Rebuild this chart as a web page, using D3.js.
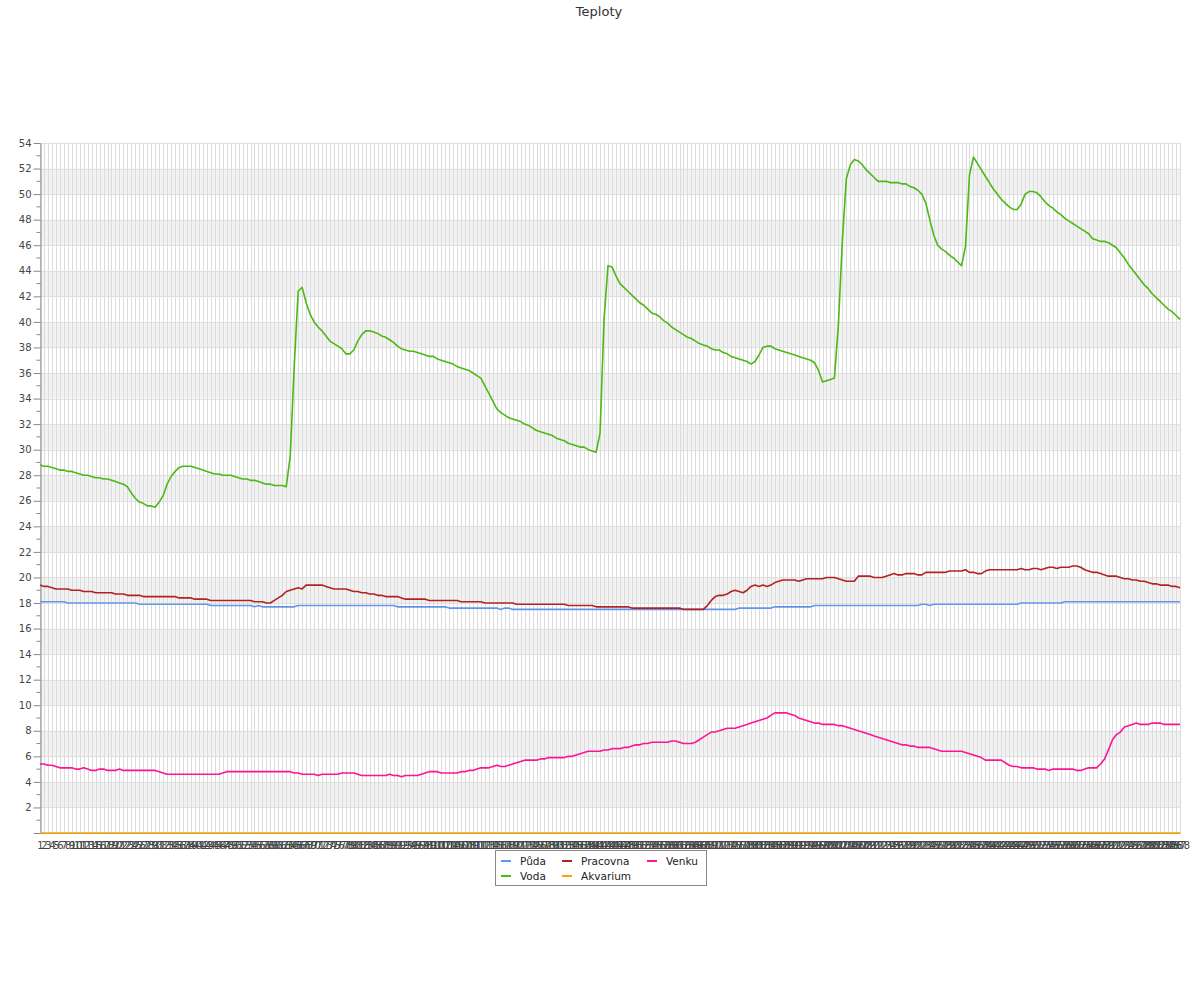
<!DOCTYPE html>
<html>
<head>
<meta charset="utf-8">
<script src="https://cdn.jsdelivr.net/npm/d3@7"></script>
<style>
  html, body { margin: 0; padding: 0; background: #fff; }
  svg { display: block; font-family: "DejaVu Sans", sans-serif; }
</style>
</head>
<body>
<svg id="chart" width="1200" height="1000"></svg>
<script>
const title = "Teploty";

const categories = [
  1,2,3,4,5,6,7,8,9,10,11,12,
  13,14,15,16,17,18,19,20,21,22,23,24,
  25,26,27,28,29,30,31,32,33,34,35,36,
  37,38,39,40,41,42,43,44,45,46,47,48,
  49,50,51,52,53,54,55,56,57,58,59,60,
  61,62,63,64,65,66,67,68,69,70,71,72,
  73,74,75,76,77,78,79,80,81,82,83,84,
  85,86,87,88,89,90,91,92,93,94,95,96,
  97,98,99,100,101,102,103,104,105,106,107,108,
  109,110,111,112,113,114,115,116,117,118,119,120,
  121,122,123,124,125,126,127,128,129,130,131,132,
  133,134,135,136,137,138,139,140,141,142,143,144,
  145,146,147,148,149,150,151,152,153,154,155,156,
  157,158,159,160,161,162,163,164,165,166,167,168,
  169,170,171,172,173,174,175,176,177,178,179,180,
  181,182,183,184,185,186,187,188,189,190,191,192,
  193,194,195,196,197,198,199,200,201,202,203,204,
  205,206,207,208,209,210,211,212,213,214,215,216,
  217,218,219,220,221,222,223,224,225,226,227,228,
  229,230,231,232,233,234,235,236,237,238,239,240,
  241,242,243,244,245,246,247,248,249,250,251,252,
  253,254,255,256,257,258,259,260,261,262,263,264,
  265,266,267,268,269,270,271,272,273,274,275,276,
  277,278,279,280,281,282,283,284,285,286,287,288
];

const puda = [
  18.1,18.1,18.1,18.1,18.1,18.1,18.1,18.0,18.0,18.0,18.0,18.0,
  18.0,18.0,18.0,18.0,18.0,18.0,18.0,18.0,18.0,18.0,18.0,18.0,
  18.0,17.9,17.9,17.9,17.9,17.9,17.9,17.9,17.9,17.9,17.9,17.9,
  17.9,17.9,17.9,17.9,17.9,17.9,17.9,17.8,17.8,17.8,17.8,17.8,
  17.8,17.8,17.8,17.8,17.8,17.8,17.7,17.8,17.7,17.7,17.7,17.7,
  17.7,17.7,17.7,17.7,17.7,17.8,17.8,17.8,17.8,17.8,17.8,17.8,
  17.8,17.8,17.8,17.8,17.8,17.8,17.8,17.8,17.8,17.8,17.8,17.8,
  17.8,17.8,17.8,17.8,17.8,17.8,17.7,17.7,17.7,17.7,17.7,17.7,
  17.7,17.7,17.7,17.7,17.7,17.7,17.7,17.6,17.6,17.6,17.6,17.6,
  17.6,17.6,17.6,17.6,17.6,17.6,17.6,17.6,17.5,17.6,17.6,17.5,
  17.5,17.5,17.5,17.5,17.5,17.5,17.5,17.5,17.5,17.5,17.5,17.5,
  17.5,17.5,17.5,17.5,17.5,17.5,17.5,17.5,17.5,17.5,17.5,17.5,
  17.5,17.5,17.5,17.5,17.5,17.5,17.5,17.5,17.5,17.5,17.5,17.5,
  17.5,17.5,17.5,17.5,17.5,17.5,17.5,17.5,17.5,17.5,17.5,17.5,
  17.5,17.5,17.5,17.5,17.5,17.5,17.5,17.5,17.6,17.6,17.6,17.6,
  17.6,17.6,17.6,17.6,17.6,17.7,17.7,17.7,17.7,17.7,17.7,17.7,
  17.7,17.7,17.7,17.8,17.8,17.8,17.8,17.8,17.8,17.8,17.8,17.8,
  17.8,17.8,17.8,17.8,17.8,17.8,17.8,17.8,17.8,17.8,17.8,17.8,
  17.8,17.8,17.8,17.8,17.8,17.8,17.9,17.9,17.8,17.9,17.9,17.9,
  17.9,17.9,17.9,17.9,17.9,17.9,17.9,17.9,17.9,17.9,17.9,17.9,
  17.9,17.9,17.9,17.9,17.9,17.9,17.9,18.0,18.0,18.0,18.0,18.0,
  18.0,18.0,18.0,18.0,18.0,18.0,18.1,18.1,18.1,18.1,18.1,18.1,
  18.1,18.1,18.1,18.1,18.1,18.1,18.1,18.1,18.1,18.1,18.1,18.1,
  18.1,18.1,18.1,18.1,18.1,18.1,18.1,18.1,18.1,18.1,18.1,18.1
];

const voda = [
  28.8,28.7,28.7,28.6,28.5,28.4,28.4,28.3,28.3,28.2,28.1,28.0,
  28.0,27.9,27.8,27.8,27.7,27.7,27.6,27.5,27.4,27.3,27.1,26.6,
  26.2,25.9,25.8,25.6,25.6,25.5,25.9,26.4,27.3,27.9,28.3,28.6,
  28.7,28.7,28.7,28.6,28.5,28.4,28.3,28.2,28.1,28.1,28.0,28.0,
  28.0,27.9,27.8,27.7,27.7,27.6,27.6,27.5,27.4,27.3,27.3,27.2,
  27.2,27.2,27.1,29.5,36.5,42.4,42.7,41.5,40.6,40.0,39.6,39.3,
  38.9,38.5,38.3,38.1,37.9,37.5,37.5,37.8,38.5,39.0,39.3,39.3,
  39.2,39.1,38.9,38.8,38.6,38.4,38.1,37.9,37.8,37.7,37.7,37.6,
  37.5,37.4,37.3,37.3,37.1,37.0,36.9,36.8,36.7,36.5,36.4,36.3,
  36.2,36.0,35.8,35.6,35.0,34.4,33.8,33.2,32.9,32.7,32.5,32.4,
  32.3,32.2,32.0,31.9,31.7,31.5,31.4,31.3,31.2,31.1,30.9,30.8,
  30.7,30.5,30.4,30.3,30.2,30.2,30.0,29.9,29.8,31.3,40.2,44.4,
  44.3,43.6,43.0,42.7,42.4,42.1,41.8,41.5,41.3,41.0,40.7,40.6,
  40.4,40.1,39.9,39.6,39.4,39.2,39.0,38.8,38.7,38.5,38.3,38.2,
  38.1,37.9,37.8,37.8,37.6,37.5,37.3,37.2,37.1,37.0,36.9,36.7,
  36.9,37.4,38.0,38.1,38.1,37.9,37.8,37.7,37.6,37.5,37.4,37.3,
  37.2,37.1,37.0,36.8,36.2,35.3,35.4,35.5,35.6,39.8,46.4,51.2,
  52.3,52.7,52.6,52.3,51.9,51.6,51.3,51.0,51.0,51.0,50.9,50.9,
  50.9,50.8,50.8,50.6,50.5,50.3,50.0,49.3,48.0,46.8,46.0,45.7,
  45.5,45.2,45.0,44.7,44.4,45.9,51.5,52.9,52.4,51.9,51.4,50.9,
  50.4,50.0,49.6,49.3,49.0,48.8,48.8,49.2,50.0,50.2,50.2,50.1,
  49.8,49.4,49.1,48.9,48.6,48.4,48.1,47.9,47.7,47.5,47.3,47.1,
  46.9,46.5,46.4,46.3,46.3,46.2,46.0,45.8,45.4,45.0,44.5,44.1,
  43.7,43.3,42.9,42.6,42.2,41.9,41.6,41.3,41.0,40.8,40.5,40.2
];

const pracovna = [
  19.4,19.3,19.3,19.2,19.1,19.1,19.1,19.1,19.0,19.0,19.0,18.9,
  18.9,18.9,18.8,18.8,18.8,18.8,18.8,18.7,18.7,18.7,18.6,18.6,
  18.6,18.6,18.5,18.5,18.5,18.5,18.5,18.5,18.5,18.5,18.5,18.4,
  18.4,18.4,18.4,18.3,18.3,18.3,18.3,18.2,18.2,18.2,18.2,18.2,
  18.2,18.2,18.2,18.2,18.2,18.2,18.1,18.1,18.1,18.0,18.0,18.2,
  18.4,18.6,18.9,19.0,19.1,19.2,19.1,19.4,19.4,19.4,19.4,19.4,
  19.3,19.2,19.1,19.1,19.1,19.1,19.0,18.9,18.9,18.8,18.8,18.7,
  18.7,18.6,18.6,18.5,18.5,18.5,18.5,18.4,18.3,18.3,18.3,18.3,
  18.3,18.3,18.2,18.2,18.2,18.2,18.2,18.2,18.2,18.2,18.1,18.1,
  18.1,18.1,18.1,18.1,18.0,18.0,18.0,18.0,18.0,18.0,18.0,18.0,
  17.9,17.9,17.9,17.9,17.9,17.9,17.9,17.9,17.9,17.9,17.9,17.9,
  17.9,17.8,17.8,17.8,17.8,17.8,17.8,17.8,17.7,17.7,17.7,17.7,
  17.7,17.7,17.7,17.7,17.7,17.6,17.6,17.6,17.6,17.6,17.6,17.6,
  17.6,17.6,17.6,17.6,17.6,17.6,17.5,17.5,17.5,17.5,17.5,17.5,
  17.8,18.2,18.5,18.6,18.6,18.7,18.9,19.0,18.9,18.8,19.0,19.3,
  19.4,19.3,19.4,19.3,19.4,19.6,19.7,19.8,19.8,19.8,19.8,19.7,
  19.8,19.9,19.9,19.9,19.9,19.9,20.0,20.0,20.0,19.9,19.8,19.7,
  19.7,19.7,20.1,20.1,20.1,20.1,20.0,20.0,20.0,20.1,20.2,20.3,
  20.2,20.2,20.3,20.3,20.3,20.2,20.2,20.4,20.4,20.4,20.4,20.4,
  20.4,20.5,20.5,20.5,20.5,20.6,20.4,20.4,20.3,20.3,20.5,20.6,
  20.6,20.6,20.6,20.6,20.6,20.6,20.6,20.7,20.6,20.6,20.7,20.7,
  20.6,20.7,20.8,20.8,20.7,20.8,20.8,20.8,20.9,20.9,20.8,20.6,
  20.5,20.4,20.4,20.3,20.2,20.1,20.1,20.1,20.0,19.9,19.9,19.8,
  19.8,19.7,19.7,19.6,19.5,19.5,19.4,19.4,19.4,19.3,19.3,19.2
];

const akvarium = [
  0,0,0,0,0,0,0,0,0,0,0,0, 0,0,0,0,0,0,0,0,0,0,0,0,
  0,0,0,0,0,0,0,0,0,0,0,0, 0,0,0,0,0,0,0,0,0,0,0,0,
  0,0,0,0,0,0,0,0,0,0,0,0, 0,0,0,0,0,0,0,0,0,0,0,0,
  0,0,0,0,0,0,0,0,0,0,0,0, 0,0,0,0,0,0,0,0,0,0,0,0,
  0,0,0,0,0,0,0,0,0,0,0,0, 0,0,0,0,0,0,0,0,0,0,0,0,
  0,0,0,0,0,0,0,0,0,0,0,0, 0,0,0,0,0,0,0,0,0,0,0,0,
  0,0,0,0,0,0,0,0,0,0,0,0, 0,0,0,0,0,0,0,0,0,0,0,0,
  0,0,0,0,0,0,0,0,0,0,0,0, 0,0,0,0,0,0,0,0,0,0,0,0,
  0,0,0,0,0,0,0,0,0,0,0,0, 0,0,0,0,0,0,0,0,0,0,0,0,
  0,0,0,0,0,0,0,0,0,0,0,0, 0,0,0,0,0,0,0,0,0,0,0,0,
  0,0,0,0,0,0,0,0,0,0,0,0, 0,0,0,0,0,0,0,0,0,0,0,0,
  0,0,0,0,0,0,0,0,0,0,0,0, 0,0,0,0,0,0,0,0,0,0,0,0
];

const venku = [
  5.4,5.4,5.3,5.3,5.2,5.1,5.1,5.1,5.1,5.0,5.0,5.1,
  5.0,4.9,4.9,5.0,5.0,4.9,4.9,4.9,5.0,4.9,4.9,4.9,
  4.9,4.9,4.9,4.9,4.9,4.9,4.8,4.7,4.6,4.6,4.6,4.6,
  4.6,4.6,4.6,4.6,4.6,4.6,4.6,4.6,4.6,4.6,4.7,4.8,
  4.8,4.8,4.8,4.8,4.8,4.8,4.8,4.8,4.8,4.8,4.8,4.8,
  4.8,4.8,4.8,4.8,4.7,4.7,4.6,4.6,4.6,4.6,4.5,4.6,
  4.6,4.6,4.6,4.6,4.7,4.7,4.7,4.7,4.6,4.5,4.5,4.5,
  4.5,4.5,4.5,4.5,4.6,4.5,4.5,4.4,4.5,4.5,4.5,4.5,
  4.6,4.7,4.8,4.8,4.8,4.7,4.7,4.7,4.7,4.7,4.8,4.8,
  4.9,4.9,5.0,5.1,5.1,5.1,5.2,5.3,5.2,5.2,5.3,5.4,
  5.5,5.6,5.7,5.7,5.7,5.7,5.8,5.8,5.9,5.9,5.9,5.9,
  5.9,6.0,6.0,6.1,6.2,6.3,6.4,6.4,6.4,6.4,6.5,6.5,
  6.6,6.6,6.6,6.7,6.7,6.8,6.9,6.9,7.0,7.0,7.1,7.1,
  7.1,7.1,7.1,7.2,7.2,7.1,7.0,7.0,7.0,7.1,7.3,7.5,
  7.7,7.9,7.9,8.0,8.1,8.2,8.2,8.2,8.3,8.4,8.5,8.6,
  8.7,8.8,8.9,9.0,9.2,9.4,9.4,9.4,9.4,9.3,9.2,9.0,
  8.9,8.8,8.7,8.6,8.6,8.5,8.5,8.5,8.5,8.4,8.4,8.3,
  8.2,8.1,8.0,7.9,7.8,7.7,7.6,7.5,7.4,7.3,7.2,7.1,
  7.0,6.9,6.9,6.8,6.8,6.7,6.7,6.7,6.7,6.6,6.5,6.4,
  6.4,6.4,6.4,6.4,6.4,6.3,6.2,6.1,6.0,5.9,5.7,5.7,
  5.7,5.7,5.7,5.5,5.3,5.2,5.2,5.1,5.1,5.1,5.1,5.0,
  5.0,5.0,4.9,5.0,5.0,5.0,5.0,5.0,5.0,4.9,4.9,5.0,
  5.1,5.1,5.1,5.4,5.8,6.5,7.3,7.7,7.9,8.3,8.4,8.5,
  8.6,8.5,8.5,8.5,8.6,8.6,8.6,8.5,8.5,8.5,8.5,8.5
];

const seriesNames = ["Půda", "Voda", "Pracovna", "Akvarium", "Venku"];
const seriesValues = [puda, voda, pracovna, akvarium, venku];
const seriesColors = ["#6495ed", "#4cb814", "#b22222", "#ffa500", "#ff1493"];

const yTicks = [0,2,4,6,8,10,12,14,16,18,20,22,24,26,28,30,32,34,36,38,40,42,44,46,48,50,52,54];
const yMinorTicks = [1,3,5,7,9,11,13,15,17,19,21,23,25,27,29,31,33,35,37,39,41,43,45,47,49,51,53];
const bandStarts = [2,6,10,14,18,22,26,30,34,38,42,46,50];

(function draw() {
  const svg = d3.select("#chart");
  const plotLeft = 40, plotRight = 1180, plotTop = 143, plotBottom = 833;

  const x = d3.scalePoint().domain(categories).range([plotLeft, plotRight]);
  const y = d3.scaleLinear().domain([0, 54]).range([plotBottom, plotTop]);
  const px = v => Math.round(v) + 0.5;

  // title
  svg.append("text")
    .attr("x", 599).attr("y", 16)
    .attr("text-anchor", "middle")
    .attr("font-size", 13)
    .attr("fill", "#333")
    .text(title);

  // bands
  svg.append("g").selectAll("rect").data(bandStarts).join("rect")
    .attr("x", plotLeft).attr("width", plotRight - plotLeft)
    .attr("y", d => y(d + 2)).attr("height", d => y(d) - y(d + 2))
    .attr("fill", "#f2f2f2");

  // horizontal grid
  svg.append("g").attr("shape-rendering", "crispEdges").selectAll("line").data(yTicks).join("line")
    .attr("x1", plotLeft).attr("x2", plotRight)
    .attr("y1", d => px(y(d))).attr("y2", d => px(y(d)))
    .attr("stroke", "#e0e0e0");

  // vertical grid
  svg.append("g").attr("shape-rendering", "crispEdges").selectAll("line").data(categories).join("line")
    .attr("x1", d => px(x(d))).attr("x2", d => px(x(d)))
    .attr("y1", plotTop).attr("y2", plotBottom)
    .attr("stroke", "#dcdcdc");

  // y axis
  const yAxis = d3.axisLeft(y).tickValues(yTicks).tickSize(7).tickSizeOuter(0).tickPadding(2)
    .tickFormat(d => d === 0 ? "" : d);
  const gy = svg.append("g").attr("transform", `translate(${plotLeft + 0.5},0)`).call(yAxis);
  gy.select(".domain").attr("stroke", "#888");
  gy.selectAll(".tick line").attr("stroke", "#888");
  gy.selectAll(".tick text").attr("fill", "#444").attr("font-size", 10).attr("font-family", "DejaVu Sans, sans-serif");
  gy.append("g").selectAll("line").data(yMinorTicks).join("line")
    .attr("x1", -4).attr("x2", 0)
    .attr("y1", d => y(d)).attr("y2", d => y(d))
    .attr("stroke", "#888");

  // x axis
  const xAxis = d3.axisBottom(x).tickSize(0).tickPadding(9);
  const gx = svg.append("g").attr("transform", `translate(0,${plotBottom})`).call(xAxis);
  gx.select(".domain").attr("stroke", "#888");
  gx.selectAll(".tick text").attr("fill", "#444").attr("font-size", 10).attr("font-family", "DejaVu Sans, sans-serif");

  // lines
  const line = d3.line().x((d, i) => x(categories[i])).y(d => y(d));
  svg.append("g").selectAll("path").data(seriesValues).join("path")
    .attr("d", d => line(d))
    .attr("fill", "none")
    .attr("stroke", (d, i) => seriesColors[i])
    .attr("stroke-width", 1.6)
    .attr("stroke-linejoin", "round");

  // legend
  const legend = svg.append("g");
  legend.append("rect")
    .attr("x", 495.5).attr("y", 850.5).attr("width", 211).attr("height", 35)
    .attr("fill", "#fff").attr("stroke", "#888");
  const colX = [501, 562, 647];
  const rowY = [861, 876];
  seriesNames.forEach((name, i) => {
    const cx = colX[Math.floor(i / 2)];
    const cy = rowY[i % 2];
    legend.append("line")
      .attr("x1", cx).attr("x2", cx + 10).attr("y1", cy).attr("y2", cy)
      .attr("stroke", seriesColors[i]).attr("stroke-width", 2);
    legend.append("text")
      .attr("x", cx + 19).attr("y", cy).attr("dy", "0.35em")
      .attr("font-size", 10.5).attr("fill", "#222")
      .text(name);
  });
})();
</script>
</body>
</html>
